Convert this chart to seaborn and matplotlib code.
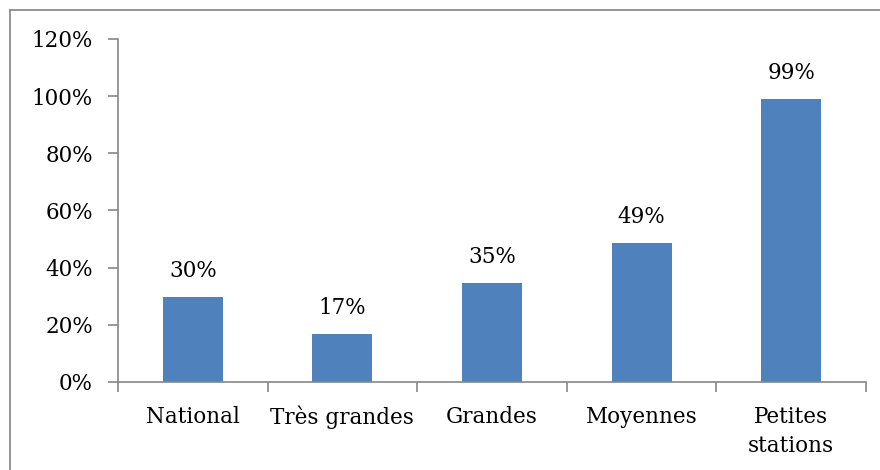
import matplotlib
matplotlib.use("Agg")
import matplotlib.pyplot as plt
import matplotlib.patches as patches
from matplotlib.ticker import FuncFormatter, FixedLocator
import seaborn as sns

categories = ["National", "Très grandes", "Grandes", "Moyennes", "Petites\nstations"]
values = [0.297, 0.167, 0.347, 0.487, 0.99]
y_ticks = [0.0, 0.2, 0.4, 0.6, 0.8, 1.0, 1.2]

sns.set_style("white")
plt.rcParams["font.family"] = ["DejaVu Serif"]
plt.rcParams["text.color"] = "black"
plt.rcParams["xtick.labelcolor"] = "black"
plt.rcParams["ytick.labelcolor"] = "black"

fig = plt.figure(figsize=(8.8, 4.7), dpi=100)
ax = fig.add_axes([118 / 880, 1 - 382 / 470, (866 - 118) / 880, (382 - 39) / 470])

sns.barplot(x=categories, y=values, color="#4F81BD", width=0.4, saturation=1,
            linewidth=0, ax=ax)

for i, v in enumerate(values):
    ax.annotate(f"{v:.0%}", (i, v), xytext=(0, 11), textcoords="offset points",
                ha="center", va="bottom", fontsize=15.5, color="black")

ax.set_xlim(-0.5, len(categories) - 0.5)
ax.set_ylim(0, 1.2)
ax.set_yticks(y_ticks)
ax.yaxis.set_major_formatter(FuncFormatter(lambda v, p: f"{v:.0%}"))
ax.xaxis.set_minor_locator(FixedLocator([i - 0.5 for i in range(len(categories) + 1)]))
ax.tick_params(axis="x", which="major", length=0, pad=17, labelsize=15.5)
ax.tick_params(axis="x", which="minor", length=7, width=1.2, color="#868686", direction="out", bottom=True)
ax.tick_params(axis="y", length=7, width=1.2, color="#868686", direction="out", left=True, labelsize=15.5, pad=11)
for lbl in ax.get_xticklabels():
    lbl.set_linespacing(1.45)

for side in ["top", "right"]:
    ax.spines[side].set_visible(False)
for side in ["left", "bottom"]:
    ax.spines[side].set_color("#868686")
    ax.spines[side].set_linewidth(1.2)

ax.set_xlabel("")
ax.set_ylabel("")

# cadre du graphique (style Excel)
fig.add_artist(patches.Rectangle((9.5 / 880, -0.2), 1.2, 1.2 - 9.5 / 470,
                                 transform=fig.transFigure, fill=False,
                                 edgecolor="#8c8c8c", linewidth=1.3))

fig.savefig("out.png", dpi=100)
